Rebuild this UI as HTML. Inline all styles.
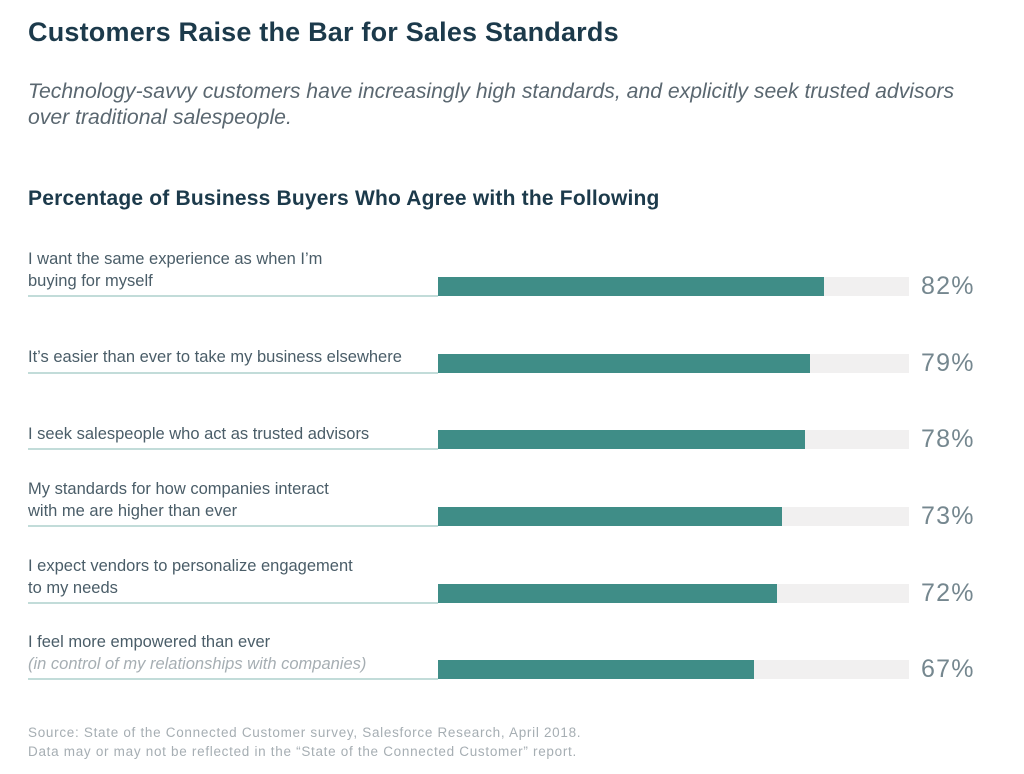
<!DOCTYPE html>
<html><head><style>
body{margin:0;width:1024px;height:774px;background:#fff;position:relative;font-family:"Liberation Sans",sans-serif;overflow:hidden}
.t{position:absolute;left:28px;top:17px;font-size:27px;font-weight:bold;color:#1c3a4b;letter-spacing:0.2px}
.s{position:absolute;left:28px;top:79px;font-size:21.2px;font-style:italic;color:#5a6770;line-height:26px;width:950px}
.h{position:absolute;left:28px;top:187px;font-size:21px;font-weight:bold;color:#1c3a4b;letter-spacing:0.2px}
.lab{position:absolute;left:28px;font-size:16.5px;color:#4a5d68;line-height:22px}
.line{position:absolute;left:28px;width:410px;height:2px;background:#c2dcd9}
.trk{position:absolute;left:438px;width:471px;height:19px;background:#f1f0f0}
.bar{position:absolute;left:438px;height:19px;background:#3f8d87}
.v{position:absolute;left:921px;font-size:25px;color:#75878f;letter-spacing:1.2px}
.f{position:absolute;left:28px;top:723px;font-size:13.5px;color:#a6aeb3;line-height:19px;letter-spacing:0.7px}
</style></head><body>
<div class="t">Customers Raise the Bar for Sales Standards</div>
<div class="s">Technology-savvy customers have increasingly high standards, and explicitly seek trusted advisors over traditional salespeople.</div>
<div class="h">Percentage of Business Buyers Who Agree with the Following</div>

<div class="lab" style="top:248px">I want the same experience as when I’m<br>buying for myself</div>
<div class="line" style="top:295px"></div><div class="trk" style="top:277px"></div><div class="bar" style="top:277px;width:386px"></div><div class="v" style="top:272px">82%</div>

<div class="lab" style="top:346px">It’s easier than ever to take my business elsewhere</div>
<div class="line" style="top:372px"></div><div class="trk" style="top:354px"></div><div class="bar" style="top:354px;width:372px"></div><div class="v" style="top:349px">79%</div>

<div class="lab" style="top:423px">I seek salespeople who act as trusted advisors</div>
<div class="line" style="top:448px"></div><div class="trk" style="top:430px"></div><div class="bar" style="top:430px;width:367px"></div><div class="v" style="top:425px">78%</div>

<div class="lab" style="top:478px">My standards for how companies interact<br>with me are higher than ever</div>
<div class="line" style="top:525px"></div><div class="trk" style="top:507px"></div><div class="bar" style="top:507px;width:344px"></div><div class="v" style="top:502px">73%</div>

<div class="lab" style="top:555px">I expect vendors to personalize engagement<br>to my needs</div>
<div class="line" style="top:602px"></div><div class="trk" style="top:584px"></div><div class="bar" style="top:584px;width:339px"></div><div class="v" style="top:579px">72%</div>

<div class="lab" style="top:631px">I feel more empowered than ever<br><i style="color:#a6aeb3">(in control of my relationships with companies)</i></div>
<div class="line" style="top:678px"></div><div class="trk" style="top:660px"></div><div class="bar" style="top:660px;width:316px"></div><div class="v" style="top:655px">67%</div>

<div class="f">Source: State of the Connected Customer survey, Salesforce Research, April 2018.<br>Data may or may not be reflected in the “State of the Connected Customer” report.</div>
</body></html>
